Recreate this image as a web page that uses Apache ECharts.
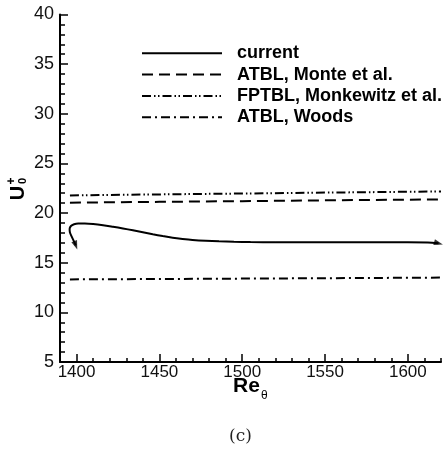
<!DOCTYPE html>
<html>
<head>
<meta charset="utf-8">
<script src="https://cdn.jsdelivr.net/npm/echarts@6/dist/echarts.min.js"></script>
<style>
  html, body { margin: 0; padding: 0; background: #fff; }
  #chart { width: 446px; height: 450px; }
</style>
</head>
<body>
<div id="chart"></div>
<script>
// Free-stream velocity U0+ against momentum-thickness Reynolds number
const reCurrent = [1399.5, 1398.3, 1397.0, 1396.0, 1395.8, 1396.6, 1398.5, 1401, 1405, 1410, 1416, 1422, 1428, 1434, 1440, 1446, 1452, 1458, 1464, 1470, 1478, 1486, 1495, 1505, 1520, 1540, 1560, 1580, 1600, 1612, 1618.5];
const uCurrent  = [16.75, 17.2, 17.65, 18.05, 18.4, 18.7, 18.88, 18.95, 18.95, 18.9, 18.78, 18.62, 18.45, 18.26, 18.06, 17.86, 17.68, 17.52, 17.4, 17.3, 17.21, 17.15, 17.11, 17.08, 17.06, 17.05, 17.05, 17.05, 17.05, 17.03, 16.95];

const reRef = [1396, 1450, 1500, 1550, 1620];
const uMonte      = [21.05, 21.13, 21.2, 21.28, 21.38];
const uMonkewitz  = [21.78, 21.88, 21.97, 22.06, 22.18];
const uWoods      = [13.32, 13.36, 13.4, 13.44, 13.5];

const xMajorTicks = [1400, 1450, 1500, 1550, 1600];
const yMajorTicks = [5, 10, 15, 20, 25, 30, 35, 40];

const pairs = (xs, ys) => xs.map((x, i) => [x, ys[i]]);

const chart = echarts.init(document.getElementById('chart'), null, { renderer: 'canvas' });

const lineBase = { type: 'line', symbol: 'none', silent: true, xAxisIndex: 0, yAxisIndex: 0 };

chart.setOption({
  animation: false,
  backgroundColor: '#fff',
  grid: { left: 60, top: 14.5, right: 5, bottom: 88 },
  legend: {
    orient: 'vertical',
    left: 141,
    top: 44.3,
    padding: 0,
    itemWidth: 80,
    itemHeight: 16,
    itemGap: 3.3,
    selectedMode: false,
    itemStyle: { opacity: 0 },
    textStyle: { fontFamily: 'Liberation Sans', fontWeight: 'bold', fontSize: 18, color: '#000', padding: [0, 0, 0, 10] },
    data: ['current', 'ATBL, Monte et al.', 'FPTBL, Monkewitz et al.', 'ATBL, Woods']
  },
  xAxis: [
    {
      type: 'value', min: 1390, max: 1620, interval: 10,
      splitLine: { show: false },
      axisLine: { show: true, onZero: false, lineStyle: { color: '#000', width: 2 } },
      axisTick: { show: true, inside: true, length: 4, lineStyle: { color: '#000', width: 1.5 } },
      axisLabel: {
        interval: 0, margin: 2, color: '#111', fontFamily: 'Liberation Sans', fontSize: 17,
        formatter: v => (xMajorTicks.indexOf(v) >= 0 ? String(v) : '')
      }
    },
    {
      type: 'value', min: 1390, max: 1620, position: 'bottom',
      splitLine: { show: false },
      axisLine: { show: false, onZero: false },
      axisTick: { show: true, inside: true, length: 8, customValues: xMajorTicks, lineStyle: { color: '#000', width: 1.5 } },
      axisLabel: { show: false }
    }
  ],
  yAxis: {
    type: 'value', min: 5, max: 40, interval: 5,
    splitLine: { show: false },
    axisLine: { show: true, onZero: false, lineStyle: { color: '#000', width: 2 } },
    axisTick: { show: true, inside: true, length: 8, lineStyle: { color: '#000', width: 1.5 } },
    minorTick: { show: true, splitNumber: 5, length: 5, lineStyle: { color: '#000', width: 1.5 } },
    axisLabel: { margin: 6, color: '#111', fontFamily: 'Liberation Sans', fontSize: 18,
      formatter: v => (yMajorTicks.indexOf(v) >= 0 ? String(v) : '') }
  },
  series: [
    Object.assign({}, lineBase, {
      name: 'current', data: pairs(reCurrent, uCurrent), smooth: 0.3,
      lineStyle: { color: '#000', width: 2 }, itemStyle: { color: '#000' }
    }),
    Object.assign({}, lineBase, {
      name: 'ATBL, Monte et al.', data: pairs(reRef, uMonte),
      lineStyle: { color: '#000', width: 2, type: [11, 6] }, itemStyle: { color: '#000' }
    }),
    Object.assign({}, lineBase, {
      name: 'FPTBL, Monkewitz et al.', data: pairs(reRef, uMonkewitz),
      lineStyle: { color: '#000', width: 2, type: [9, 3, 1.5, 2.5, 1.5, 3] }, itemStyle: { color: '#000' }
    }),
    Object.assign({}, lineBase, {
      name: 'ATBL, Woods', data: pairs(reRef, uWoods),
      lineStyle: { color: '#000', width: 2, type: [9, 4, 2, 4] }, itemStyle: { color: '#000' }
    }),
    {
      // arrow heads at both ends of the current curve
      type: 'scatter', silent: true, xAxisIndex: 0, yAxisIndex: 0,
      symbol: 'triangle', symbolSize: [6, 9],
      itemStyle: { color: '#000' },
      data: [
        { value: [reCurrent[0], uCurrent[0]], symbolRotate: 200 },
        { value: [reCurrent[reCurrent.length - 1], uCurrent[uCurrent.length - 1]], symbolRotate: 255 }
      ]
    }
  ],
  graphic: [
    {
      type: 'group', x: 18, y: 193, rotation: Math.PI / 2,
      children: [
        { type: 'text', x: 0, y: 0, style: { text: 'U', fontFamily: 'Liberation Sans', fontWeight: 'bold', fontSize: 20, fill: '#000', align: 'center', verticalAlign: 'middle' } },
        { type: 'text', x: 12, y: -6, style: { text: '+', fontFamily: 'Liberation Sans', fontWeight: 'bold', fontSize: 12, fill: '#000', align: 'center', verticalAlign: 'middle' } },
        { type: 'text', x: 12, y: 5, style: { text: '0', fontFamily: 'Liberation Sans', fontWeight: 'bold', fontSize: 11, fill: '#000', align: 'center', verticalAlign: 'middle' } }
      ]
    },
    {
      type: 'text', left: 233, top: 376,
      style: { text: 'Re', fontFamily: 'Liberation Sans', fontWeight: 'bold', fontSize: 21, fill: '#000' }
    },
    {
      type: 'text', left: 261, top: 390,
      style: { text: 'θ', fontFamily: 'Liberation Sans', fontSize: 12, fill: '#000' }
    },
    {
      type: 'text', left: 229, top: 428,
      style: { text: '(c)', fontFamily: 'DejaVu Serif', fontSize: 17, fill: '#222' }
    }
  ]
});
</script>
</body>
</html>
